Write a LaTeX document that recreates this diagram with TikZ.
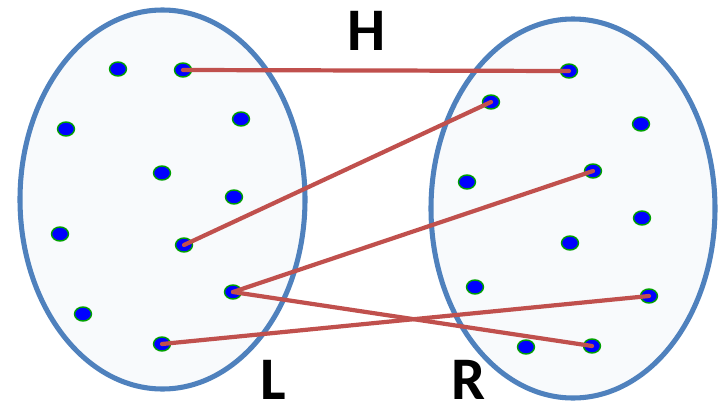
\documentclass[tikz,border=0pt]{standalone}
\usepackage{fontspec}
\setmainfont{Carlito}
\usepackage{tkz-euclide}
\definecolor{SetClr}{RGB}{79,129,189}
\definecolor{SetFillClr}{RGB}{248,250,252}
\definecolor{MapClr}{RGB}{192,80,77}
\definecolor{DotClr}{RGB}{0,0,255}
\definecolor{DotRimClr}{RGB}{0,160,0}

\begin{document}
\begin{tikzpicture}[x=0.025cm,y=-0.025cm,
  setlabel/.style={font=\fontsize{43}{46}\bfseries\selectfont,inner sep=0pt,anchor=base}]
\tkzSetUpLine[line width=3pt,color=MapClr]
\useasboundingbox (0,0) rectangle (725,408);

% the two sets
\draw[line width=3.6pt,color=SetClr,fill=SetFillClr] (162.5,199.5) ellipse [x radius=142.5,y radius=189.5];
\draw[line width=3.6pt,color=SetClr,fill=SetFillClr] (573,208.5) ellipse [x radius=142,y radius=189.5];

% elements of L
\tkzDefPoints{118/69/La,183/70/Lb,66/129/Lc,241/119/Ld,162/173/Le,234/197/Lf,
  60/234/Lg,184/245/Lh,233/292/Li,83/314/Lj,162/344/Lk}
% elements of R
\tkzDefPoints{569/71/Ra,491/102/Rb,641/124/Rc,593/171/Rd,467/182/Re,642/218/Rf,
  570/243/Rg,475/287/Rh,649/296/Ri,526/347/Rj,592/346/Rk}

\foreach \p in {La,Lb,Lc,Ld,Le,Lf,Lg,Lh,Li,Lj,Lk,Ra,Rb,Rc,Rd,Re,Rf,Rg,Rh,Ri,Rj,Rk}
  \draw[line width=1pt,color=DotRimClr,fill=DotClr] (\p) ellipse [x radius=8.5,y radius=7];

\tkzDrawSegments(Lb,Ra Lh,Rb Li,Rd Li,Rk Lk,Ri)

\node[setlabel] (hLbl) at (367,50) {H};
\node[setlabel] (lLbl) at (273,399) {L};
\node[setlabel] (rLbl) at (469,399) {R};

\end{tikzpicture}
\end{document}
